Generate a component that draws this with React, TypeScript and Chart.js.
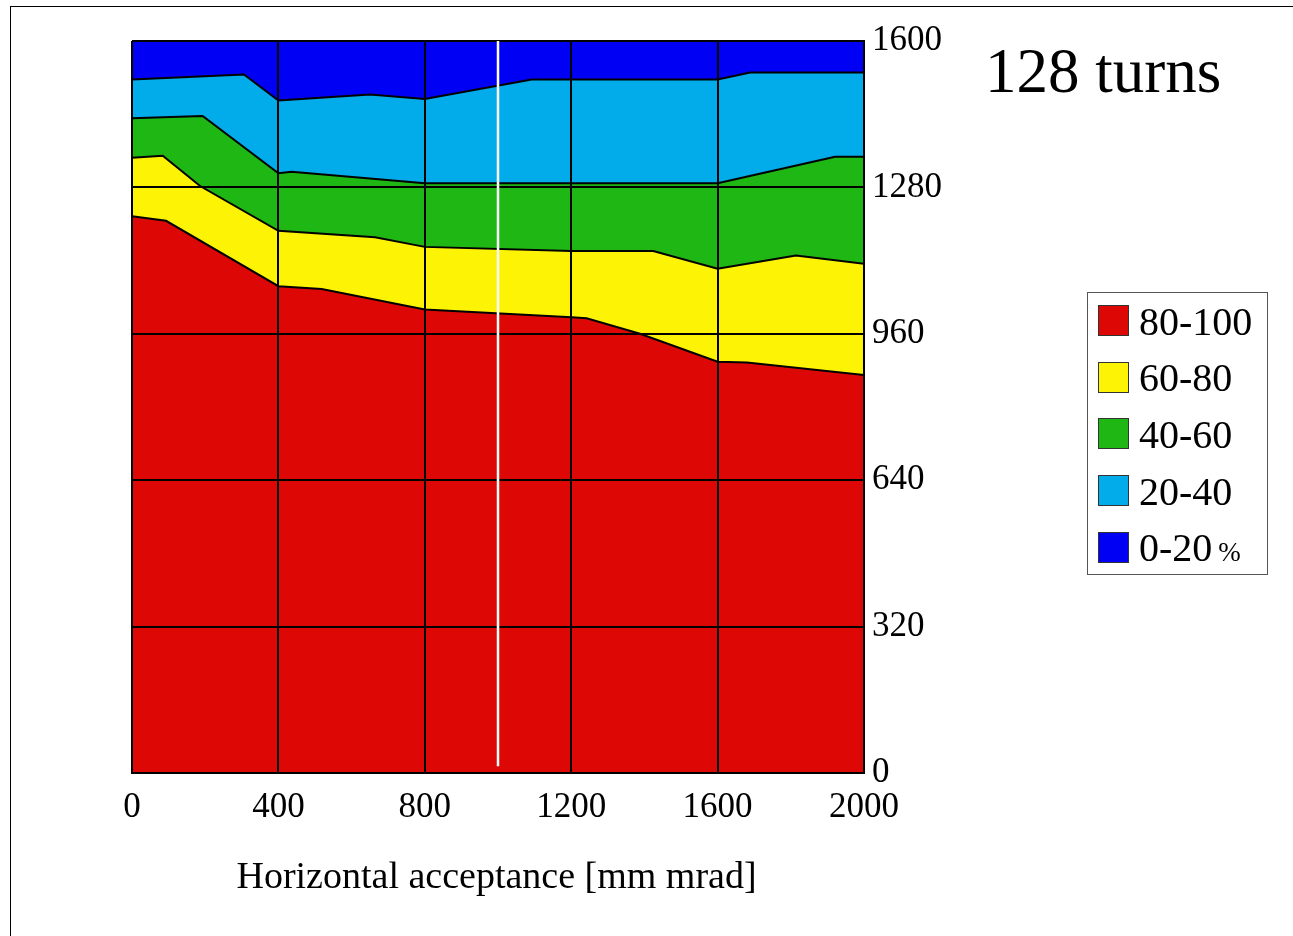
import React, { useEffect, useRef } from "react";
import { Chart, registerables } from "chart.js";

Chart.register(...registerables);

// Boundary lines (upper edge of each band), in data units
const redX = [0, 93, 400, 518, 800, 1201, 1242, 1388, 1600, 1680, 2000];
const redY = [1217, 1207, 1064, 1058, 1013, 996, 994, 960, 899, 897, 870];

const yellowX = [0, 84, 186, 400, 664, 800, 1200, 1424, 1600, 1814, 2000];
const yellowY = [1345, 1349, 1283, 1185, 1171, 1150, 1141, 1141, 1102, 1131, 1113];

const greenX = [0, 193, 400, 436, 800, 1600, 1921, 2000];
const greenY = [1431, 1436, 1311, 1314, 1289, 1289, 1347, 1347];

const cyanX = [0, 306, 400, 650, 800, 1092, 1600, 1689, 2000];
const cyanY = [1516, 1527, 1470, 1483, 1473, 1516, 1516, 1531, 1531];

const blueX = [0, 2000];
const blueY = [1600, 1600];

const bandLabels = ["80-100", "60-80", "40-60", "20-40", "0-20"];
const bandColors = ["#DD0806", "#FCF305", "#1FB714", "#02ABEA", "#0000F5"];

const xTicks = [0, 400, 800, 1200, 1600, 2000];
const yTicks = [0, 320, 640, 960, 1280, 1600];

const markerX = 1000;
const markerYFrom = 15;
const markerYTo = 1600;

const FONT = "'Liberation Serif', 'Times New Roman', serif";

function pts(xs: number[], ys: number[]) {
  return xs.map((x, i) => ({ x, y: ys[i] }));
}

export default function App() {
  const ref = useRef<HTMLCanvasElement | null>(null);

  useEffect(() => {
    const canvas = ref.current;
    if (!canvas) return;
    const series = [
      pts(redX, redY),
      pts(yellowX, yellowY),
      pts(greenX, greenY),
      pts(cyanX, cyanY),
      pts(blueX, blueY),
    ];
    const whiteLine = {
      id: "whiteLine",
      afterDraw(chart: any) {
        const { ctx, scales } = chart;
        const px = scales.x.getPixelForValue(markerX);
        ctx.save();
        ctx.strokeStyle = "#ffffff";
        ctx.lineWidth = 2.5;
        ctx.beginPath();
        ctx.moveTo(px, scales.y.getPixelForValue(markerYTo));
        ctx.lineTo(px, scales.y.getPixelForValue(markerYFrom));
        ctx.stroke();
        ctx.restore();
      },
    };
    const chart = new Chart(canvas, {
      type: "line",
      data: {
        datasets: series.map((d, i) => ({
          label: bandLabels[i],
          data: d,
          backgroundColor: bandColors[i],
          borderColor: i === 4 ? "#888888" : "#000000",
          borderWidth: i === 4 ? 1 : 2,
          fill: "origin",
          pointRadius: 0,
          tension: 0,
        })),
      },
      options: {
        animation: false,
        responsive: false,
        events: [],
        layout: { padding: { left: 132, top: 41, right: 349, bottom: 0 } },
        plugins: { legend: { display: false }, tooltip: { enabled: false } },
        scales: {
          x: {
            type: "linear",
            min: 0,
            max: 2000,
            afterBuildTicks: (s: any) => {
              s.ticks = xTicks.map((v) => ({ value: v }));
            },
            afterFit: (s: any) => {
              s.height = 163;
            },
            ticks: {
              padding: 14,
              color: "#000",
              maxRotation: 0,
              font: { family: FONT, size: 35 },
              callback: (v: any) => String(v),
            },
            grid: { color: "#000", lineWidth: 2, drawTicks: false, z: 1 },
            border: { color: "#000", width: 2, z: 1 },
          },
          y: {
            type: "linear",
            position: "right",
            min: 0,
            max: 1600,
            afterBuildTicks: (s: any) => {
              s.ticks = yTicks.map((v) => ({ value: v }));
            },
            afterFit: (s: any) => {
              s.width = 80;
            },
            ticks: {
              padding: 8,
              color: "#000",
              font: { family: FONT, size: 35 },
              callback: (v: any) => String(v),
            },
            grid: { color: "#000", lineWidth: 2, drawTicks: false, z: 1 },
            border: { color: "#000", width: 2, z: 1 },
          },
        },
      } as any,
      plugins: [whiteLine],
    });
    return () => chart.destroy();
  }, []);

  const rowStep = 56.7;

  return (
    <div
      style={{
        position: "fixed",
        left: 0,
        top: 0,
        width: 1293,
        height: 936,
        overflow: "hidden",
        background: "#fff",
        fontFamily: FONT,
      }}
    >
      <div
        style={{
          position: "absolute",
          left: 10,
          top: 6,
          width: 1400,
          height: 1000,
          border: "1px solid #000",
        }}
      />
      <canvas
        ref={ref}
        width={1293}
        height={936}
        style={{ position: "absolute", left: 0, top: 0, width: 1293, height: 936 }}
      />
      <div
        style={{
          position: "absolute",
          left: 985,
          top: 40,
          fontSize: 63,
          lineHeight: 1,
          whiteSpace: "nowrap",
          color: "#000",
        }}
      >
        128 turns
      </div>
      <div
        style={{
          position: "absolute",
          left: 0,
          width: 993,
          top: 856,
          fontSize: 38,
          lineHeight: 1,
          textAlign: "center",
          whiteSpace: "nowrap",
          color: "#000",
        }}
      >
        Horizontal acceptance [mm mrad]
      </div>
      <div
        style={{
          position: "absolute",
          left: 1087,
          top: 292,
          width: 181,
          height: 283,
          border: "1.5px solid #555",
          boxSizing: "border-box",
        }}
      />
      {bandLabels.map((lab, i) => (
        <React.Fragment key={lab}>
          <div
            style={{
              position: "absolute",
              left: 1098,
              top: 305 + i * rowStep,
              width: 31,
              height: 31,
              background: bandColors[i],
              border: "1px solid #333",
              boxSizing: "border-box",
            }}
          />
          <div
            style={{
              position: "absolute",
              left: 1139,
              top: 301.5 + i * rowStep,
              fontSize: 40,
              lineHeight: 1,
              whiteSpace: "nowrap",
              color: "#000",
            }}
          >
            {lab}
            {i === 4 ? <span style={{ fontSize: 27, marginLeft: 6 }}>%</span> : null}
          </div>
        </React.Fragment>
      ))}
    </div>
  );
}
